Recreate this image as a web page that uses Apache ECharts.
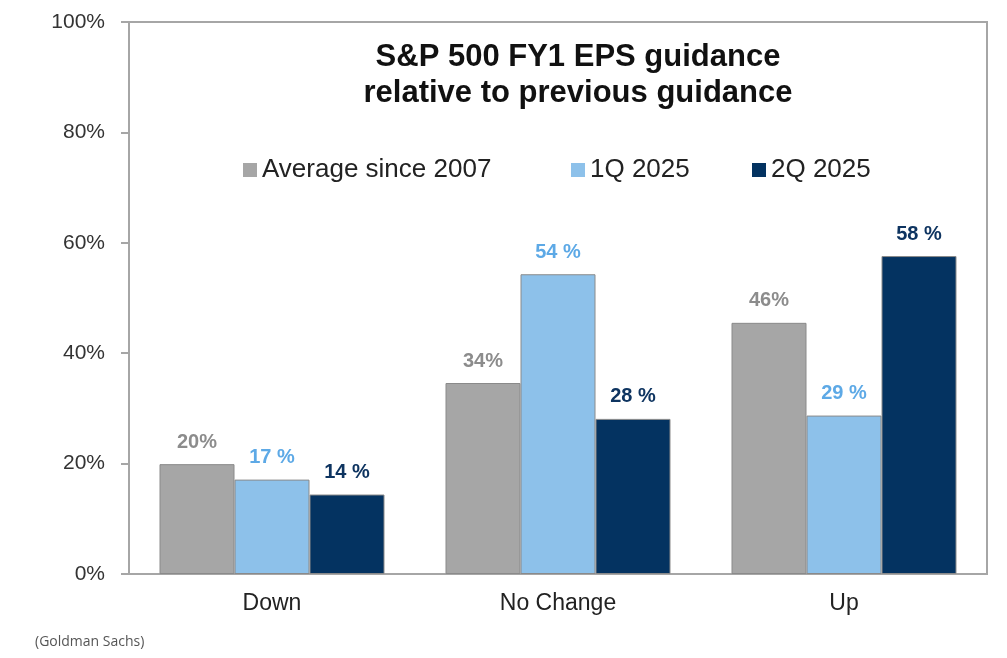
<!DOCTYPE html>
<html>
	<head>
		<meta charset="utf-8">
		<title></title>
		<script src="https://cdn.jsdelivr.net/npm/echarts@6/dist/echarts.min.js"></script>
	</head>
	<body style="margin: 0; overflow: hidden; background: #fff;">
		<div id="main" style="width: 1007px; height: 658px;"></div>
		<script type="text/javascript">
			// 数据
			var categories = ['Down', 'No Change', 'Up'];
			var seriesNames = ['Average since 2007', '1Q 2025', '2Q 2025'];
			var avgSince2007 = [19.9, 34.6, 45.5];
			var q1_2025 = [17.1, 54.3, 28.7];
			var q2_2025 = [14.4, 28.1, 57.6];
			var avgLabels = ['20%', '34%', '46%'];
			var q1Labels = ['17 %', '54 %', '29 %'];
			var q2Labels = ['14 %', '28 %', '58 %'];

			var font = '"Liberation Sans", Arial, sans-serif';
			var axisGray = '#a6a6a6';

			function barSeries(name, data, labels, fill, labelColor) {
				return {
					name: name,
					type: 'bar',
					data: data,
					barWidth: 75,
					barGap: '0%',
					itemStyle: {
						color: fill,
						borderColor: '#8a8a8a',
						borderWidth: 1
					},
					label: {
						show: true,
						position: 'top',
						distance: 12,
						fontFamily: font,
						fontSize: 20,
						fontWeight: 'bold',
						color: labelColor,
						formatter: function (p) {
							return labels[p.dataIndex];
						}
					}
				};
			}

			function legendAt(left, name) {
				return {
					left: left,
					top: 157,
					padding: 0,
					itemWidth: 14,
					itemHeight: 14,
					icon: 'rect',
					itemStyle: { borderWidth: 0 },
					data: [name],
					textStyle: {
						fontFamily: font,
						fontSize: 26,
						color: '#222'
					}
				};
			}

			var myChart = echarts.init(document.getElementById('main'));
			var option = {
				animation: false,
				title: {
					text: 'S&P 500 FY1 EPS guidance\nrelative to previous guidance',
					left: 573,
					top: 34,
					textAlign: 'center',
					textStyle: {
						fontFamily: font,
						fontSize: 31,
						fontWeight: 'bold',
						lineHeight: 36,
						color: '#111'
					}
				},
				legend: [
					legendAt(243, seriesNames[0]),
					legendAt(571, seriesNames[1]),
					legendAt(752, seriesNames[2])
				],
				grid: {
					left: 129,
					right: 20,
					top: 22,
					bottom: 84,
					show: true,
					borderColor: axisGray,
					borderWidth: 2
				},
				xAxis: {
					type: 'category',
					data: categories,
					axisLine: { lineStyle: { color: axisGray, width: 2 } },
					axisTick: { length: 7, lineStyle: { color: axisGray, width: 2 } },
					axisLabel: {
						margin: 18,
						fontFamily: font,
						fontSize: 23,
						color: '#222'
					}
				},
				yAxis: {
					type: 'value',
					min: 0,
					max: 100,
					interval: 20,
					splitLine: { show: false },
					axisLine: { show: true, lineStyle: { color: axisGray, width: 2 } },
					axisTick: { show: true, length: 8, lineStyle: { color: axisGray, width: 2 } },
					axisLabel: {
						margin: 24,
						formatter: '{value}%',
						fontFamily: font,
						fontSize: 21,
						color: '#333'
					}
				},
				graphic: [{
					type: 'text',
					x: 35,
					y: 635,
					style: {
						text: '(Goldman Sachs)',
						fontFamily: '"Open Sans", sans-serif',
						fontSize: 14,
						fill: '#555'
					}
				}],
				series: [
					barSeries(seriesNames[0], avgSince2007, avgLabels, '#a6a6a6', '#8c8c8c'),
					barSeries(seriesNames[1], q1_2025, q1Labels, '#8dc1ea', '#5da9e6'),
					barSeries(seriesNames[2], q2_2025, q2Labels, '#043361', '#0e3460')
				]
			};
			myChart.setOption(option);
		</script>
	</body>
</html>
